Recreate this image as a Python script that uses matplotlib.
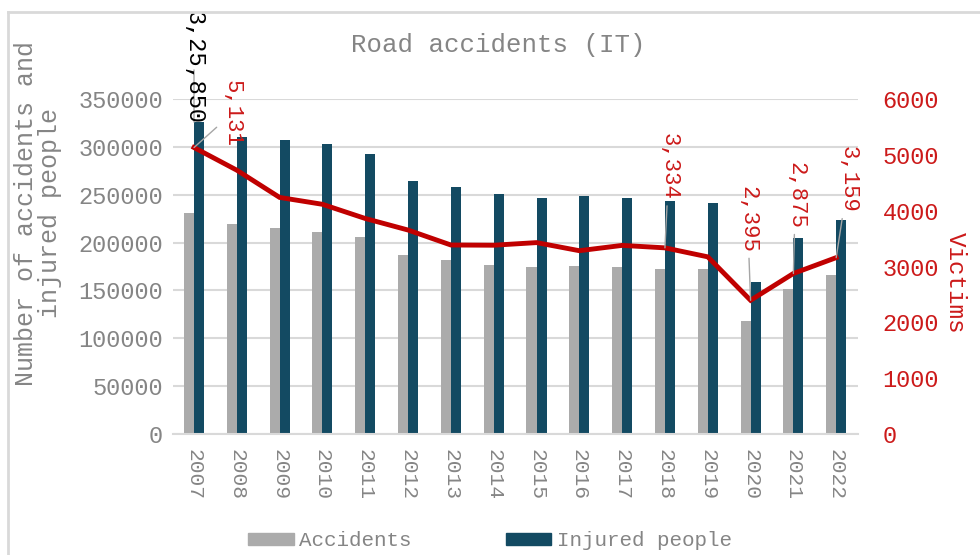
import matplotlib
matplotlib.use("Agg")
import matplotlib.pyplot as plt
from matplotlib.patches import Patch
from matplotlib.lines import Line2D

years = ["2007", "2008", "2009", "2010", "2011", "2012", "2013", "2014",
         "2015", "2016", "2017", "2018", "2019", "2020", "2021", "2022"]
accidents = [230871, 218963, 215405, 211404, 205638, 186726, 181660, 177031,
             174539, 175791, 174933, 172553, 172183, 118298, 151875, 165889]
injured = [325850, 310745, 307258, 302735, 292019, 264716, 258093, 251147,
           246920, 249175, 246750, 242919, 241384, 159248, 204728, 223475]
victims = [5131, 4725, 4237, 4114, 3860, 3653, 3385, 3381,
           3428, 3283, 3378, 3334, 3173, 2395, 2875, 3159]

left_ticks = [0, 50000, 100000, 150000, 200000, 250000, 300000, 350000]
right_ticks = [0, 1000, 2000, 3000, 4000, 5000, 6000]

FONT = ["Liberation Mono", "DejaVu Sans Mono"]
GRAY_TXT = "#858585"
RED = "#C00000"
RED_TXT = "#CC1A1A"
BAR_GRAY = "#ABABAB"
BAR_BLUE = "#134A62"
GRID = "#D9D9D9"

plt.rcParams["font.family"] = FONT

fig = plt.figure(figsize=(9.8, 5.55), dpi=100)
ax = fig.add_axes([172.6 / 980, 1 - 434 / 555, 685 / 980, 335 / 555])
ax2 = ax.twinx()

x = list(range(len(years)))
w = 0.234
ax.bar([i - w / 2 for i in x], accidents, width=w, color=BAR_GRAY, zorder=2)
ax.bar([i + w / 2 for i in x], injured, width=w, color=BAR_BLUE, zorder=2)
ax2.plot(x, victims, color=RED, lw=3.5, solid_joinstyle="miter", zorder=3)

ax.set_xlim(-0.5, len(years) - 0.5)
ax.set_ylim(0, 350000)
ax2.set_ylim(0, 6000)
ax.set_yticks(left_ticks)
ax.set_yticklabels([str(v) for v in left_ticks])
ax2.set_yticks(right_ticks)
ax2.set_yticklabels([str(v) for v in right_ticks])
ax.set_xticks(x)
ax.set_xticklabels(years, rotation=270)

ax.yaxis.grid(True, color=GRID, lw=1.5, zorder=0)
ax.set_axisbelow(True)
for a in (ax, ax2):
    for s in ("top", "left", "right"):
        a.spines[s].set_visible(False)
    a.spines["bottom"].set_color(GRID)
    a.spines["bottom"].set_linewidth(1.5)
ax2.spines["bottom"].set_visible(False)

ax.tick_params(axis="y", length=0, pad=7, labelsize=17, labelcolor=GRAY_TXT)
ax.tick_params(axis="x", length=0, pad=11, labelsize=15.3, labelcolor=GRAY_TXT)
ax2.tick_params(axis="y", length=0, pad=18, labelsize=17, labelcolor=RED_TXT)

# data labels (rotated), offsets in pixels
def lbl(axis, i, val, text, dx, dy, color, size=16):
    axis.annotate(text, xy=(i, val), xytext=(dx * 0.72, -dy * 0.72),
                  textcoords="offset points", rotation=270, ha="center",
                  va="center", fontsize=size, color=color,
                  annotation_clip=False,
                  arrowprops=dict(arrowstyle="-", color="#A6A6A6", lw=1,
                                  shrinkA=2, shrinkB=0))

lbl(ax, 0, injured[0], "3,25,850", 0, -55, "black", 17)
lbl(ax2, 0, victims[0], "5,131", 38, -34, RED_TXT)
lbl(ax2, 11, victims[11], "3,334", 4, -81, RED_TXT)
lbl(ax2, 13, victims[13], "2,395", -3, -81, RED_TXT)
lbl(ax2, 14, victims[14], "2,875", 2, -78, RED_TXT)
lbl(ax2, 15, victims[15], "3,159", 12, -78, RED_TXT)

fig.text(498 / 980, 1 - 45 / 555, "Road accidents (IT)", ha="center",
         va="center", fontsize=18.5, color=GRAY_TXT)
fig.text(38 / 980, 1 - 213 / 555, "Number of accidents and\ninjured people",
         rotation=90, ha="center", va="center", multialignment="center",
         fontsize=18, color=GRAY_TXT, linespacing=0.95)
fig.text(955 / 980, 1 - 283 / 555, "Victims", rotation=270, ha="center",
         va="center", fontsize=17.5, color=RED_TXT)

handles = [Patch(color=BAR_GRAY), Patch(color=BAR_BLUE)]
fig.legend(handles, ["Accidents", "Injured people"], loc="center",
           bbox_to_anchor=(490 / 980, 1 - 541 / 555), ncol=2, frameon=False,
           fontsize=15, labelcolor=GRAY_TXT, handlelength=2.2,
           handleheight=0.55, handletextpad=0.25, columnspacing=4.5,
           borderpad=0, borderaxespad=0)

# chart outer border (partially visible)
fig.add_artist(Line2D([8 / 980, 1], [1 - 12 / 555, 1 - 12 / 555],
                      transform=fig.transFigure, color=GRID, lw=2))
fig.add_artist(Line2D([8 / 980, 8 / 980], [0, 1 - 12 / 555],
                      transform=fig.transFigure, color=GRID, lw=2))

fig.savefig("out.png", dpi=100)
